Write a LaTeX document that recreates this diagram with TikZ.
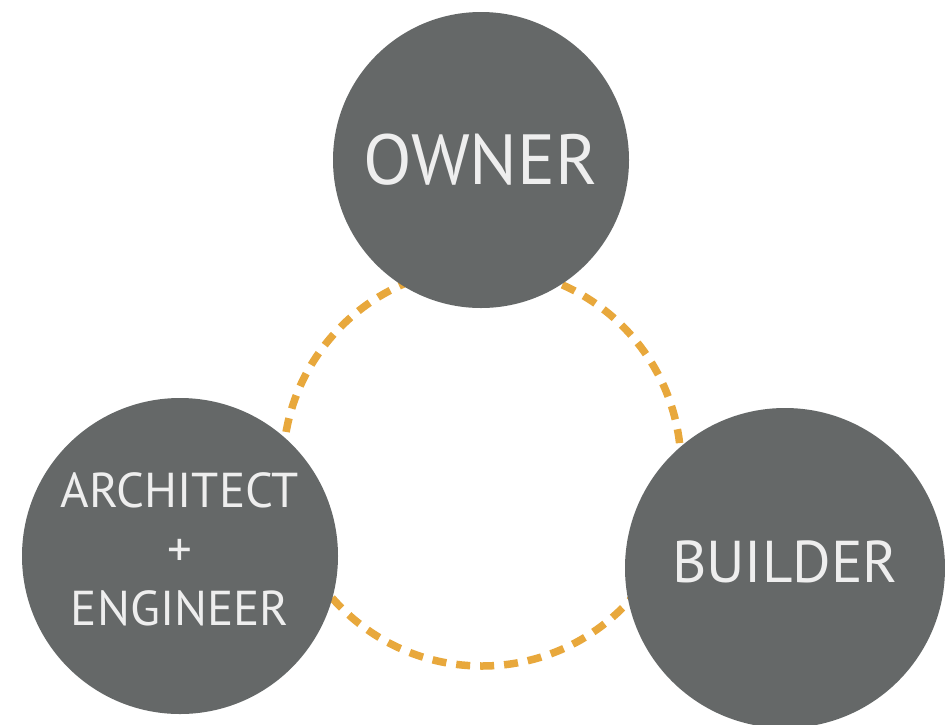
\documentclass[tikz,border=0pt]{standalone}
\usepackage{fontspec}
\setmainfont{PT Sans}
\definecolor{discgray}{HTML}{656868}
\definecolor{ringorange}{HTML}{E8A83C}
\definecolor{labelwhite}{HTML}{EEEEEE}
\tikzset{
  disc/.style={circle, fill=discgray, text=labelwhite, inner sep=0pt, align=center},
  ring/.style={draw=ringorange, line width=7.5pt, dash pattern=on 14pt off 10pt}
}
\begin{document}
\begin{tikzpicture}[x=1pt,y=-1pt]
\useasboundingbox[fill=white] (0,0) rectangle (945,724);
\coordinate (ringc) at (482,467);
\draw[ring] (ringc) circle[radius=199pt];
\node[disc, minimum size=296pt, font={\fontsize{71}{80}\selectfont}] (owner) at (481,160) {OWNER};
\node[disc, minimum size=316pt, font={\fontsize{49}{59}\selectfont}, text depth=14pt] (arch) at (180,556) {ARCHITECT\\+\\ENGINEER};
\node[disc, minimum size=320pt, font={\fontsize{59}{70}\selectfont}, text depth=12pt] (builder) at (785,568) {BUILDER};
\end{tikzpicture}
\end{document}
